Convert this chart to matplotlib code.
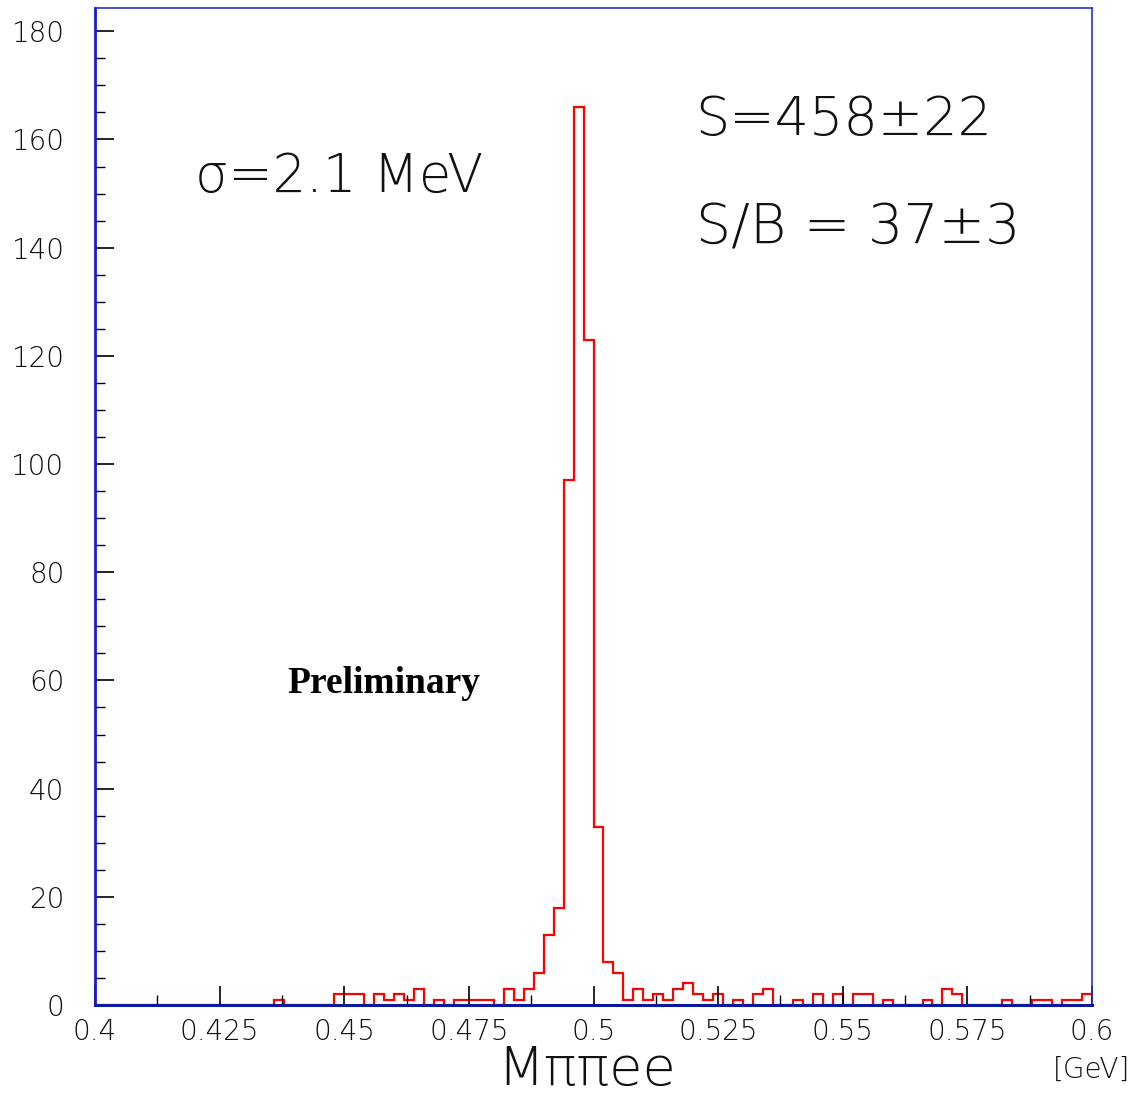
import numpy as np
import matplotlib
matplotlib.use('Agg')
import matplotlib.pyplot as plt
from matplotlib.ticker import MultipleLocator

# Histogram of M(pi pi e e), 100 bins of 2 MeV from 0.4 to 0.6 GeV
x_min = 0.4
x_max = 0.6
n_bins = 100
counts = [0] * 18 + [1, 0, 0, 0, 0, 0, 2, 2, 2, 0,
          2, 1, 2, 1, 3, 0, 1, 0, 1, 1,
          1, 1, 0, 3, 1, 3, 6, 13, 18, 97,
          166, 123, 33, 8, 6, 1, 3, 1, 2, 1,
          3, 4, 2, 1, 2, 0, 1, 0, 2, 3,
          0, 0, 1, 0, 2, 0, 2, 0, 2, 2,
          0, 1, 0, 0, 0, 1, 0, 3, 2, 0,
          0, 0, 0, 1, 0, 0, 1, 1, 0, 1,
          1, 2]
x_ticks = [0.4, 0.425, 0.45, 0.475, 0.5, 0.525, 0.55, 0.575, 0.6]
x_tick_labels = ['0.4', '0.425', '0.45', '0.475', '0.5', '0.525', '0.55', '0.575', '0.6']
y_ticks = [0, 20, 40, 60, 80, 100, 120, 140, 160, 180]

edges = np.linspace(x_min, x_max, n_bins + 1)

thin = dict(family='DejaVu Sans', fontweight=200, color='#111111')

fig = plt.figure(figsize=(11.45, 10.96), dpi=100)
ax = fig.add_axes([0.083, 0.083, 0.8707, 0.9097])

ax.stairs(counts, edges, color='red', linewidth=1.6)

ax.set_xlim(x_min, x_max)
ax.set_ylim(0, 184.3)

ax.set_xticks(x_ticks)
ax.set_xticklabels(x_tick_labels)
ax.set_yticks(y_ticks)
ax.xaxis.set_minor_locator(MultipleLocator(0.0125))
ax.yaxis.set_minor_locator(MultipleLocator(5))

ax.tick_params(axis='both', which='major', direction='in', length=14, width=1.2,
               color='black', labelsize=20, top=False, right=False)
ax.tick_params(axis='both', which='minor', direction='in', length=7.5, width=1.0,
               color='black', top=False, right=False)
ax.tick_params(axis='y', which='major', pad=22)
ax.tick_params(axis='x', which='major', pad=9)
for lbl in ax.get_xticklabels() + ax.get_yticklabels():
    lbl.set_fontweight(200)
    lbl.set_color('#111111')

for side in ['top', 'right']:
    ax.spines[side].set_color('#2233cc')
    ax.spines[side].set_linewidth(1.2)
ax.spines['left'].set_color('#1a1acc')
ax.spines['left'].set_linewidth(2.0)
ax.spines['bottom'].set_color('#0a1a9a')
ax.spines['bottom'].set_linewidth(2.2)

# Annotations
ax.text(0.42, 153, '\u03c3=2.1 MeV', fontsize=38, ha='left', va='center', **thin)
ax.text(0.5205, 163.5, 'S=458\u00b122', fontsize=39, ha='left', va='center', **thin)
ax.text(0.5205, 143.5, 'S/B = 37\u00b13', fontsize=40, ha='left', va='center', **thin)
ax.text(0.4385, 59.5, 'Preliminary', fontsize=27, ha='left', va='center',
        family='Liberation Serif', fontweight='bold', color='black')

fig.text(0.512, 0.024, 'M\u03c0\u03c0ee', fontsize=39, ha='center', va='center', **thin)
fig.text(0.953, 0.024, '[GeV]', fontsize=20, ha='center', va='center', **thin)

fig.savefig('out.png', dpi=100)
